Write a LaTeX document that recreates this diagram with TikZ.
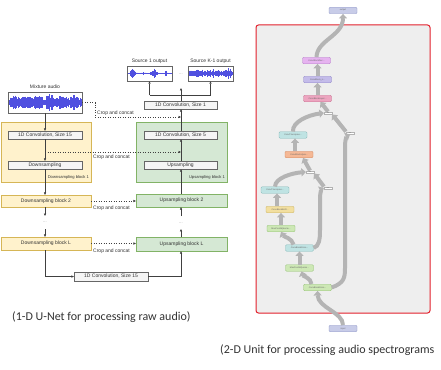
\documentclass[tikz,border=0pt]{standalone}
\usepackage{fontspec}
\setmainfont{Liberation Sans}
\newfontfamily\capfont{Carlito}
\usetikzlibrary{arrows.meta}
\definecolor{yfill}{HTML}{FFF2CC}\definecolor{ydraw}{HTML}{D6B656}
\definecolor{gfill}{HTML}{D5E8D4}\definecolor{gdraw}{HTML}{82B366}
\definecolor{bfill}{HTML}{F5F5F5}\definecolor{bdraw}{HTML}{666666}
\definecolor{wavec}{HTML}{5050E0}
\definecolor{panelc}{HTML}{EEEEEE}\definecolor{predc}{HTML}{E3202C}
\definecolor{flowc}{HTML}{B4B4B4}
\definecolor{txtc}{HTML}{333333}
\definecolor{lavf}{HTML}{C8CCE8}\definecolor{lavd}{HTML}{9098C8}
\definecolor{violf}{HTML}{E6B3F0}\definecolor{viold}{HTML}{B57EC8}
\definecolor{purf}{HTML}{C4BCEA}\definecolor{purd}{HTML}{8F86C8}
\definecolor{pinkf}{HTML}{EDA5C0}\definecolor{pinkd}{HTML}{C87090}
\definecolor{cyanf}{HTML}{BFE3E3}\definecolor{cyand}{HTML}{80B8B8}
\definecolor{orf}{HTML}{F5B895}\definecolor{ord}{HTML}{D08860}
\definecolor{yelf}{HTML}{F2DFA0}\definecolor{yeld}{HTML}{C8B060}
\definecolor{grnf}{HTML}{CDE8B5}\definecolor{grnd}{HTML}{90C070}
\newcommand\wavebox[6]{%
  \pgfmathsetseed{#6}%
  \pgfmathsetmacro\wN{int(((#2)-(#1))*2)}%
  \foreach \i in {0,...,\wN} {%
    \pgfmathsetmacro\wt{\i/\wN}%
    \pgfmathsetmacro\wx{#1+\i*0.5}%
    \pgfmathsetmacro\wa{#4*min(1,(#5))*(0.3+0.7*rnd)}%
    \draw[wavec,line width=0.45pt] (\wx,#3-\wa) -- (\wx,#3+\wa);
  }}
\tikzset{
  lbl/.style={font=\fontsize{5}{5.5}\selectfont,text=txtc,inner sep=0pt},
  smalllbl/.style={font=\fontsize{4.1}{4.5}\selectfont,text=txtc,inner sep=0pt},
  ibox/.style={draw=bdraw,fill=bfill,line width=0.4pt,inner sep=0pt,font=\fontsize{5}{5.5}\selectfont,text=txtc,minimum height=8pt},
  yblock/.style={draw=ydraw,fill=yfill,line width=0.4pt,inner sep=0pt,font=\fontsize{5}{5.5}\selectfont,text=txtc},
  gblock/.style={draw=gdraw,fill=gfill,line width=0.4pt,inner sep=0pt,font=\fontsize{5}{5.5}\selectfont,text=txtc},
  wbox/.style={draw=bdraw,fill=white,line width=0.5pt,inner sep=0pt},
  arr/.style={draw=black!75,line width=0.45pt,-{Triangle[length=2.4pt,width=2.2pt]}},
  ln/.style={draw=black!75,line width=0.45pt},
  dotarr/.style={draw=black!75,line width=0.5pt,dotted,-{Triangle[length=2.4pt,width=2.2pt]}},
  dotsl/.style={font=\fontsize{4}{4}\selectfont,text=black!50,inner sep=0pt},
  pnode/.style={rounded corners=1.2pt,line width=0.35pt,inner sep=0pt,minimum width=28pt,minimum height=6.5pt,font=\fontsize{2.2}{2.5}\selectfont,text=black!60},
  jnode/.style={draw=black!30,fill=white,line width=0.2pt,inner sep=0.3pt,minimum width=8pt,minimum height=2.6pt,font=\fontsize{1.6}{1.8}\selectfont,text=black!60},
  flow/.style={draw=flowc,line width=4pt,-{Triangle[length=4.5pt,width=8pt]}},
  captext/.style={font=\capfont\fontsize{12}{14}\selectfont,text=txtc,inner sep=0pt,anchor=west}
}
\begin{document}
\begin{tikzpicture}[x=1pt,y=-1pt]
\useasboundingbox (0,0) rectangle (441,369);
\fill[white] (0,0) rectangle (441,369);

% ---------- left: 1-D U-Net ----------
\node[yblock,minimum width=90pt,minimum height=60pt] (db1) at (46,152) {};
\node[gblock,minimum width=91pt,minimum height=60pt] (ub1) at (181.5,152) {};
\node[smalllbl,anchor=east] (db1l) at (89,177) {Downsampling block 1};
\node[smalllbl,anchor=east] (ub1l) at (225,177) {Upsampling block 1};

\node[lbl] (mixl) at (45,87) {Mixture audio};
\node[wbox,minimum width=74pt,minimum height=21pt] (mix) at (45,102.5) {};
\wavebox{9}{81}{102.5}{8.5}{0.5+0.35*abs(sin(\wt*1100))+0.4*max(0,1-abs(\wt-0.55)/0.06)+0.3*max(0,1-abs(\wt-0.9)/0.05)}{3}

\node[ibox,minimum width=74pt] (c15) at (45,135) {1D Convolution, Size 15};
\node[ibox,minimum width=74pt] (down) at (45,165) {Downsampling};
\node[yblock,minimum width=90pt,minimum height=12pt] (db2) at (46,201) {Downsampling block 2};
\node[yblock,minimum width=90pt,minimum height=13pt] (dbL) at (46,243.5) {Downsampling block L};
\node[ibox,minimum width=74pt,minimum height=9pt] (cb) at (111,276.5) {1D Convolution, Size 15};

\node[ibox,minimum width=73pt] (c1) at (180.5,105) {1D Convolution, Size 1};
\node[ibox,minimum width=73pt] (c5) at (180.5,135) {1D Convolution, Size 5};
\node[ibox,minimum width=73pt] (up) at (180.5,165) {Upsampling};
\node[gblock,minimum width=91pt,minimum height=13pt] (ub2) at (181.5,200.5) {Upsampling block 2};
\node[gblock,minimum width=91pt,minimum height=14pt] (ubL) at (181.5,244) {Upsampling block L};

\node[lbl] (s1l) at (149.5,61) {Source 1 output};
\node[wbox,minimum width=45pt,minimum height=15pt] (s1) at (149.5,73.5) {};
\wavebox{128}{171}{73.5}{6}{0.08+0.9*max(0,1-abs(\wt-0.12)/0.1)+0.85*max(0,1-abs(\wt-0.6)/0.09)+0.5*max(0,1-abs(\wt-0.88)/0.05)+0.15*max(0,1-abs(\wt-0.35)/0.1)}{7}
\node[lbl] (sKl) at (210.5,61) {Source K-1 output};
\node[wbox,minimum width=45pt,minimum height=15pt] (sK) at (210.5,73.5) {};
\wavebox{189}{232}{73.5}{6}{0.4+0.3*abs(sin(\wt*1400))+0.6*max(0,1-abs(\wt-0.93)/0.05)+0.2*max(0,1-abs(\wt-0.5)/0.1)}{11}
\node[dotsl] (sdots) at (181,74) {...};

% main flow arrows
\draw[arr] (mix.south) -- (c15.north);
\draw[arr] (c15.south) -- (down.north);
\draw[arr] (down.south) -- (db2.north -| down.south);
\coordinate (d2a) at (45,216);
\coordinate (dLa) at (45,229);
\draw[arr] (db2.south -| d2a) -- (d2a);
\node[dotsl] (ddots) at (45,222) {...};
\draw[arr] (dLa) -- (dLa |- dbL.north);
\coordinate (bl) at (45,276.5);
\coordinate (br) at (181,276.5);
\draw[arr] (dLa |- dbL.south) -- (bl) -- (cb.west);
\draw[arr] (cb.east) -- (br) -- (br |- ubL.south);
\coordinate (uLa) at (181,229);
\coordinate (u2a) at (181,216);
\draw[arr] (uLa |- ubL.north) -- (uLa);
\node[dotsl] (udots) at (181,223) {...};
\draw[arr] (u2a) -- (u2a |- ub2.south);
\draw[arr] (u2a |- ub2.north) -- (u2a |- up.south);
\draw[arr] (u2a |- up.north) -- (u2a |- c5.south);
\draw[arr] (u2a |- c5.north) -- (u2a |- c1.south);
\coordinate (tl) at (149.5,95);
\coordinate (tr) at (210.5,95);
\coordinate (tm) at (181,88);
\draw[arr] (u2a |- c1.north) -- (tm);
\draw[ln] (tl) -- (tr);
\draw[arr] (tl) -- (s1.south);
\draw[arr] (tr) -- (sK.south);

% crop and concat
\coordinate (cc1a) at (95,102.5);
\coordinate (cc1b) at (95,117);
\coordinate (cc1c) at (181,117);
\draw[dotarr] (mix.east) -- (cc1a) -- (cc1b) -- (cc1c);
\node[lbl,anchor=west] (cc1l) at (97,113) {Crop and concat};
\coordinate (cc2a) at (45,152);
\coordinate (cc2b) at (181,152);
\draw[dotarr] (cc2a) -- (cc2b);
\node[lbl,anchor=west] (cc2l) at (93,157) {Crop and concat};
\draw[dotarr] (db2.east) -- (db2.east -| ub2.west);
\node[lbl,anchor=west] (cc3l) at (93,208) {Crop and concat};
\draw[dotarr] (dbL.east) -- (dbL.east -| ubL.west);
\node[lbl,anchor=west] (cc4l) at (93,251) {Crop and concat};

\node[captext] (cap1) at (12,317) {(1-D U-Net for processing raw audio)};

% ---------- right: 2-D U-Net graph ----------
\node[draw=predc,fill=panelc,line width=1pt,rounded corners=2.5pt,minimum width=174pt,minimum height=288pt,inner sep=0pt] (panel) at (343,169) {};

\node[pnode,draw=lavd,fill=lavf] (out) at (343,10.5) {output};
\node[pnode,draw=viold,fill=violf] (ndec) at (316.5,60.5) {ConvBlockDec...};
\node[pnode,draw=purd,fill=purf] (nn) at (317.5,79.5) {ConvBlock\_n...};
\node[pnode,draw=pinkd,fill=pinkf] (nlay) at (317.5,98.5) {ConvBlockLayer...};
\node[jnode] (j1) at (328,113) {cat};
\node[jnode] (j4) at (350,133) {cat};
\node[pnode,draw=cyand,fill=cyanf] (tc1) at (293,135) {ConvTranspose...};
\node[pnode,draw=ord,fill=orf] (spec) at (299,154.5) {ConvBlockUpsa...};
\node[jnode] (j2) at (310,172) {cat};
\node[jnode] (j3) at (328,188) {cat};
\node[pnode,draw=cyand,fill=cyanf] (tc2) at (275,190) {ConvTranspose...};
\node[pnode,draw=yeld,fill=yelf] (bot) at (280,209.5) {ConvBlockBottl...};
\node[pnode,draw=grnd,fill=grnf] (mp1) at (281,228.5) {MaxPool2d(kerne...};
\node[pnode,draw=cyand,fill=cyanf] (enc2) at (299.5,248) {ConvBlockEnco...};
\node[pnode,draw=grnd,fill=grnf] (mp2) at (299.5,268) {MaxPool2d(kerne...};
\node[pnode,draw=grnd,fill=grnf] (enc1) at (317.5,287.5) {ConvBlockEnco...};
\node[pnode,draw=lavd,fill=lavf] (inp) at (343,328.5) {input};

\draw[flow] (inp.north) .. controls (343,312) and (318,308) .. (enc1.south);
\draw[flow] ([xshift=-6pt]enc1.north) .. controls (311,278) and (303,276) .. ([xshift=2pt]mp2.south);
\draw[flow] (mp2.north) -- (enc2.south);
\draw[flow] ([xshift=-6pt]enc2.north) .. controls (292,238) and (284,237) .. (mp1.south);
\draw[flow] (mp1.north) -- (mp1.north |- bot.south);
\draw[flow] ([xshift=-3pt]bot.north) -- ([xshift=2pt]tc2.south);
\draw[flow] (tc2.north) .. controls (275,178) and (292,173) .. (j2.west);
\draw[flow] (enc2.east) .. controls (319,246) and (320,240) .. (320,230) -- (320,198) .. controls (320,192) and (322,189) .. (j3.west);
\draw[flow] (j3.north west) -- (j2.south east);
\draw[flow] (j2.north) -- ([xshift=4pt]spec.south);
\draw[flow] ([xshift=-4pt]spec.north) -- ([xshift=2pt]tc1.south);
\draw[flow] (tc1.north) .. controls (292,122) and (308,115) .. (j1.west);
\draw[flow] (enc1.east) .. controls (344,283) and (345,278) .. (345,268) -- (345,146) .. controls (345,139) and (347,136) .. (j4.south);
\draw[flow] (j4.north west) -- (j1.south east);
\draw[flow] (j1.north) -- ([xshift=3pt]nlay.south);
\draw[flow] (nlay.north) -- (nlay.north |- nn.south);
\draw[flow] (nn.north) -- (nn.north |- ndec.south);
\draw[flow] (ndec.north) .. controls (317,40) and (343,36) .. (out.south);

\node[captext] (cap2) at (220,350) {(2-D Unit for processing audio spectrograms};
\end{tikzpicture}
\end{document}
